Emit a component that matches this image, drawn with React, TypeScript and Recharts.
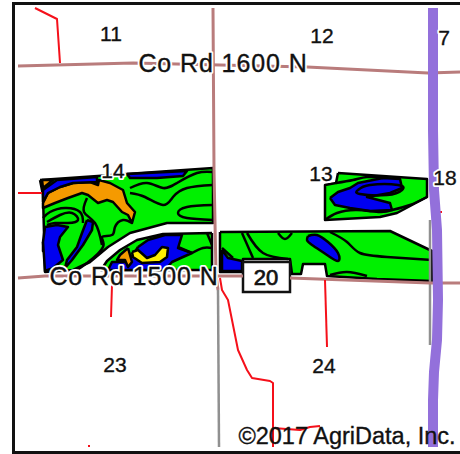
import { Area, ComposedChart, Line, ReferenceArea, Scatter, XAxis, YAxis } from 'recharts';

type Pt = [number, number];

const FIELD_14: Pt[] = [[40, 180], [213, 168], [213, 223], [167, 223], [130, 233], [108, 247], [90, 262], [73, 270], [45, 272], [43, 195], [40, 180]];
const FIELD_14_LOWER: Pt[] = [[212, 233], [163, 234], [137, 240], [120, 250], [107, 261], [101, 270], [212, 270], [212, 233]];
const FIELD_13: Pt[] = [[338, 173], [427, 179], [427, 197], [412, 205], [397, 213], [380, 217], [325, 220], [325, 185], [336, 183], [338, 173]];
const FIELD_SOUTH: Pt[] = [[220, 232], [390, 231], [432, 251], [432, 281], [377, 279], [327, 276], [325, 264], [303, 264], [301, 274], [292, 274], [290, 259], [243, 259], [243, 272], [220, 272], [220, 232]];

const ORANGE_CORNER: Pt[] = [[42, 180], [53, 180], [43, 188], [42, 180]];
const ORANGE_MAIN: Pt[] = [[43, 203], [48, 193], [60, 187], [73, 183], [90, 182], [98, 185], [99, 180], [110, 183], [123, 190], [127, 203], [135, 212], [132, 223], [128, 215], [122, 212], [113, 202], [107, 200], [98, 203], [88, 195], [82, 193], [68, 198], [55, 203], [43, 208], [43, 203]];
const ORANGE_SMALL: Pt[] = [[43, 242], [47, 248], [43, 251], [43, 242]];
const ORANGE_LOWER: Pt[] = [[128, 248], [120, 255], [117, 260], [125, 260], [128, 267], [132, 262], [130, 255], [128, 248]];

const BLUE_TOP_LEFT: Pt[] = [[43, 190], [57, 180], [97, 177], [97, 182], [73, 183], [60, 187], [48, 193], [43, 202], [43, 190]];
const BLUE_TOP_STRIP: Pt[] = [[127, 174], [187, 171], [183, 176], [157, 178], [130, 178], [127, 174]];
const BLUE_LEFT: Pt[] = [[45, 227], [57, 225], [68, 227], [60, 237], [58, 245], [63, 260], [53, 268], [45, 271], [43, 242], [45, 227]];
const BLUE_SLIVER: Pt[] = [[87, 220], [93, 222], [92, 230], [83, 245], [72, 260], [65, 268], [67, 260], [77, 247], [82, 233], [87, 220]];
const BLUE_LOWER: Pt[] = [[138, 247], [148, 240], [165, 235], [182, 235], [178, 248], [192, 253], [183, 257], [172, 262], [165, 270], [108, 270], [112, 262], [127, 262], [133, 255], [138, 247]];
const BLUE_13: Pt[] = [[330, 198], [338, 192], [350, 188], [358, 183], [383, 178], [400, 179], [402, 188], [390, 193], [367, 197], [390, 203], [392, 210], [370, 211], [350, 208], [335, 205], [330, 198]];
const BLUE_SOUTH_LEFT: Pt[] = [[222, 250], [228, 258], [242, 261], [242, 271], [222, 271], [222, 250]];
const BLUE_OVAL: Pt[] = [[308, 236], [317, 235], [328, 242], [338, 253], [338, 261], [327, 255], [312, 245], [307, 240], [308, 236]];

const YELLOW_LOWER: Pt[] = [[132, 252], [138, 250], [147, 258], [155, 255], [162, 247], [168, 248], [167, 257], [160, 262], [142, 263], [133, 257], [132, 252]];

const CONTOURS: Pt[][] = [
  [[130, 188], [147, 183], [163, 188], [177, 183], [197, 173], [213, 172]],
  [[130, 193], [145, 197], [163, 205], [173, 197], [187, 188], [213, 185]],
  [[213, 205], [187, 207], [178, 213], [187, 218], [213, 220]],
  [[132, 223], [123, 220], [115, 227], [112, 235], [102, 237], [103, 247], [87, 263], [77, 270]],
  [[87, 198], [84, 212], [95, 223], [102, 245]],
  [[47, 222], [60, 215], [72, 213], [78, 220], [68, 223], [55, 223], [47, 225]],
  [[43, 218], [50, 212], [65, 208], [80, 212], [83, 223]],
  [[178, 247], [192, 253]],
  [[192, 253], [203, 248], [212, 248]],
  [[207, 233], [212, 245]],
  [[336, 183], [353, 180], [367, 177], [383, 178]],
  [[325, 220], [337, 213], [357, 210], [380, 212], [392, 210]],
  [[392, 210], [410, 205], [427, 197]],
  [[358, 190], [370, 185], [398, 185], [402, 190], [387, 195], [360, 194], [358, 190]],
  [[222, 248], [233, 258]],
  [[242, 233], [253, 258]],
  [[247, 233], [263, 253], [288, 259]],
  [[278, 233], [285, 239], [292, 233]],
  [[330, 232], [347, 242], [360, 253], [387, 257], [432, 260]],
  [[330, 275], [347, 272], [367, 276]],
];

const ROAD_NORTH: Pt[] = [[18, 66], [133, 63], [307, 67], [428, 73], [460, 72]];
const ROAD_SOUTH_WEST: Pt[] = [[18, 278], [45, 276], [243, 276]];
const ROAD_SOUTH_EAST: Pt[] = [[290, 278], [430, 283], [460, 283]];
const ROAD_CENTRE: Pt[] = [[213, 8], [214, 170], [216, 275], [218, 290]];
const ROAD_GRAY_CENTRE: Pt[] = [[218, 290], [219, 447]];
const ROAD_GRAY_EAST: Pt[] = [[430, 220], [430, 345]];
const RIVER: Pt[] = [[433, 8], [433, 130], [434, 190], [437, 230], [438, 300], [437, 340], [434, 372], [433, 400], [433, 447]];

const STREAMS: Pt[][] = [
  [[35, 8], [57, 19], [60, 63]],
  [[18, 193], [42, 193]],
  [[112, 285], [111, 317]],
  [[325, 280], [327, 347]],
  [[220, 278], [222, 290], [228, 300], [238, 350], [247, 370], [252, 378], [270, 381], [273, 383], [273, 447]],
  [[273, 428], [300, 430], [310, 427], [320, 426]],
  [[439, 212], [442, 212]],
  [[88, 446], [90, 446]],
];

const SECTION_LABELS = [
  { x: 111, y: 33, text: '11' },
  { x: 322, y: 35, text: '12' },
  { x: 444, y: 37, text: '7' },
  { x: 321, y: 173, text: '13' },
  { x: 113, y: 170, text: '14' },
  { x: 445, y: 177, text: '18' },
  { x: 115, y: 364, text: '23' },
  { x: 324, y: 365, text: '24' },
];
const ROAD_LABELS = [
  { x: 223, y: 63, text: 'Co Rd 1600 N' },
  { x: 134, y: 276, text: 'Co Rd 1500 N' },
];
const SHIELD_LABEL = [{ x: 266, y: 277, text: '20' }];
const CREDIT_LABEL = [{ x: 347, y: 436, text: '©2017 AgriData, Inc.' }];

const toRows = (pts: Pt[]) => pts.map(([x, y]) => ({ x, y }));

function MapText({ cx, cy, payload, size, halo, spacing, bold }: any) {
  return (
    <g fontFamily="Liberation Sans, Arial, sans-serif" fontSize={size} letterSpacing={spacing} textAnchor="middle" dominantBaseline="central">
      {halo && (
        <text x={cx} y={cy} fill="#fff" stroke="#fff" strokeWidth={4} strokeLinejoin="round">
          {payload.text}
        </text>
      )}
      <text x={cx} y={cy} fill="#111" stroke="#111" strokeWidth={bold ? 0.7 : 0.35}>
        {payload.text}
      </text>
    </g>
  );
}

const patch = (pts: Pt[], fill: string, key: string, type: any = 'linear') => (
  <Area
    key={key}
    data={toRows(pts)}
    dataKey="y"
    type={type}
    baseValue={454}
    fill={fill}
    fillOpacity={1}
    stroke="#000"
    strokeWidth={2.5}
    strokeLinejoin="round"
    dot={false}
    activeDot={false}
    isAnimationActive={false}
  />
);

const path = (pts: Pt[], stroke: string, width: number, key: string, type: any = 'linear') => (
  <Line
    key={key}
    data={toRows(pts)}
    dataKey="y"
    type={type}
    stroke={stroke}
    strokeWidth={width}
    strokeLinejoin="round"
    dot={false}
    activeDot={false}
    isAnimationActive={false}
  />
);

export default function App() {
  return (
    <div style={{ position: 'absolute', left: 0, top: 0, background: '#fff' }}>
      <ComposedChart width={460} height={454} margin={{ top: 0, right: 0, bottom: 0, left: 0 }}>
        <XAxis dataKey="x" type="number" domain={[0, 460]} hide allowDuplicatedCategory />
        <YAxis dataKey="y" type="number" domain={[0, 454]} reversed hide />
        {patch(FIELD_14, '#00f000', 'f14')}
        {patch(FIELD_14_LOWER, '#00f000', 'f14l')}
        {patch(FIELD_13, '#00f000', 'f13')}
        {patch(FIELD_SOUTH, '#00f000', 'fs')}
        {patch(ORANGE_CORNER, '#f59a00', 'oc')}
        {patch(ORANGE_MAIN, '#f59a00', 'om')}
        {patch(ORANGE_SMALL, '#f59a00', 'os')}
        {patch(BLUE_TOP_LEFT, '#0000f0', 'b1')}
        {patch(BLUE_TOP_STRIP, '#0000f0', 'b2')}
        {patch(BLUE_LEFT, '#0000f0', 'b3')}
        {patch(BLUE_SLIVER, '#0000f0', 'b4')}
        {patch(BLUE_LOWER, '#0000f0', 'b5')}
        {patch(ORANGE_LOWER, '#f59a00', 'ol')}
        {patch(BLUE_13, '#0000f0', 'b6')}
        {patch(BLUE_SOUTH_LEFT, '#0000f0', 'b7')}
        {patch(BLUE_OVAL, '#0000f0', 'b8', 'natural')}
        {patch(YELLOW_LOWER, '#ffee00', 'y1')}
        <ReferenceArea x1={243} x2={290} y1={262} y2={292} fill="#fff" fillOpacity={1} stroke="#111" strokeWidth={2.5} />
        <ReferenceArea x1={13.5} x2={466} y1={3.5} y2={452.5} fill="none" stroke="#111" strokeWidth={3} ifOverflow="visible" />
        {CONTOURS.map((c, i) => path(c, '#000', 2.5, `c${i}`, 'natural'))}
        {path(ROAD_GRAY_CENTRE, '#909090', 2.5, 'rgc')}
        {path(ROAD_GRAY_EAST, '#909090', 2.5, 'rge')}
        {path(ROAD_NORTH, '#b97c7c', 3, 'rn')}
        {path(ROAD_SOUTH_WEST, '#b97c7c', 3, 'rsw')}
        {path(ROAD_SOUTH_EAST, '#b97c7c', 3, 'rse')}
        {path(ROAD_CENTRE, '#b97c7c', 3, 'rc')}
        {STREAMS.map((s, i) => path(s, '#f5101a', 2, `s${i}`))}
        {path(RIVER, '#9370db', 10, 'river')}
        <Scatter data={SECTION_LABELS} isAnimationActive={false} shape={(p: any) => <MapText {...p} size={21} halo />} />
        <Scatter data={ROAD_LABELS} isAnimationActive={false} shape={(p: any) => <MapText {...p} size={25} spacing={0.9} halo />} />
        <Scatter data={SHIELD_LABEL} isAnimationActive={false} shape={(p: any) => <MapText {...p} size={22} bold />} />
        <Scatter data={CREDIT_LABEL} isAnimationActive={false} shape={(p: any) => <MapText {...p} size={23.5} />} />
      </ComposedChart>
    </div>
  );
}
